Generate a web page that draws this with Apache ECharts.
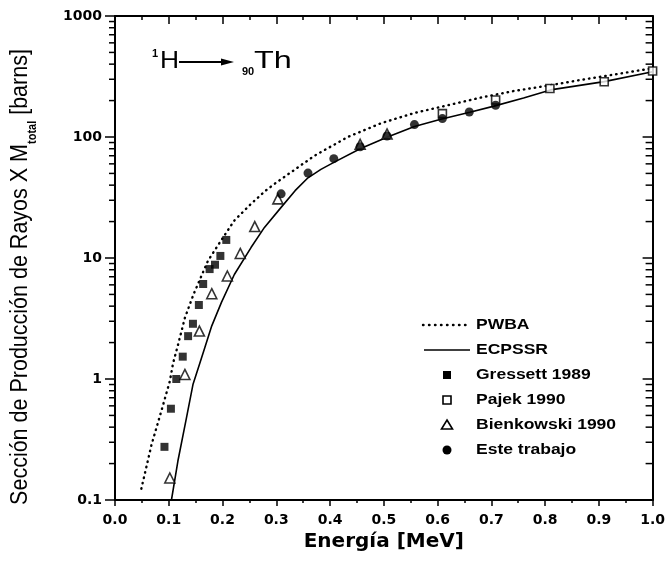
<!DOCTYPE html>
<html><head><meta charset="utf-8">
<script src="https://cdn.jsdelivr.net/npm/echarts@6/dist/echarts.min.js"></script>
<style>html,body{margin:0;padding:0;background:#fff}#c{width:668px;height:565px}</style>
</head><body><div id="c"></div>
<script>
// ---- data ----
const xTickLabels = ['0.0','0.1','0.2','0.3','0.4','0.5','0.6','0.7','0.8','0.9','1.0'];
const yTickLabels = ['0.1','1','10','100','1000'];

const pwbaE = [0.049,0.068,0.086,0.102,0.108,0.117,0.130,0.146,0.173,0.198,0.222,0.253,0.280,0.300,0.371,0.433,0.495,0.557,0.619,0.681,0.742,0.810,0.866,0.911,1.0];
const pwbaV = [0.124,0.287,0.54,0.96,1.35,1.9,3.2,5.0,9.5,14.1,20.4,28,36,42,70,100,130,158,183,212,240,268,296,319,370];

const ecpE = [0.105,0.117,0.133,0.145,0.157,0.167,0.180,0.198,0.222,0.253,0.278,0.309,0.335,0.359,0.383,0.408,0.456,0.507,0.557,0.606,0.660,0.705,0.760,0.810,0.910,1.0];
const ecpV = [0.1,0.21,0.48,0.9,1.32,1.81,2.75,4.3,7.3,12.2,17.9,26.2,36,46,54,62,80,100,122,140,160,180,210,245,287,346];

const gresE = [0.092,0.104,0.114,0.126,0.136,0.145,0.156,0.164,0.176,0.186,0.196,0.207];
const gresV = [0.275,0.568,1.0,1.53,2.26,2.86,4.09,6.1,8.1,8.8,10.4,14.1];

const pajE = [0.609,0.708,0.809,0.910,1.0];
const pajV = [156,202,252,286,351];

const bienE = [0.102,0.130,0.157,0.180,0.209,0.233,0.260,0.303,0.456,0.506];
const bienV = [0.152,1.09,2.49,5.07,7.1,10.9,18.2,30.8,87,106];

const esteE = [0.309,0.359,0.407,0.456,0.506,0.557,0.609,0.659,0.708];
const esteV = [33.9,50.3,66.2,83,102,126.7,142,161,183];

const legendNames = ['PWBA', 'ECPSSR', 'Gressett 1989', 'Pajek 1990', 'Bienkowski 1990', 'Este trabajo'];

// log minor tick positions (2..9 per decade)
const minorTicks = [];
[0.1,1,10,100].forEach(d => { for (let k = 2; k <= 9; k++) minorTicks.push(+(d*k).toPrecision(3)); });

const zip = (a, b) => a.map((v, i) => [v, b[i]]);
const FONT = '"Liberation Sans", Arial, sans-serif';
const WIDE = '"DejaVu Sans", sans-serif';

const chart = echarts.init(document.getElementById('c'), null, {renderer: 'canvas'});

// hand-built legend (icons drawn at fixed size like the reference)
const LX = 447, LY0 = 325, LDY = 25;
const legendGraphics = [];
legendNames.forEach((n, i) => {
  const y = LY0 + i * LDY;
  legendGraphics.push({type: 'text', x: 476, y: y, silent: true, scaleX: 1.25,
    style: {text: n, font: 'bold 14px ' + FONT, fill: '#000', align: 'left', verticalAlign: 'middle'}});
});
legendGraphics.push(
  {type: 'line', silent: true, shape: {x1: 423, y1: LY0, x2: 467, y2: LY0},
    style: {stroke: '#000', lineWidth: 2.4, lineDash: [0.5, 5.5], lineCap: 'round'}},
  {type: 'line', silent: true, shape: {x1: 424, y1: LY0 + LDY, x2: 470, y2: LY0 + LDY},
    style: {stroke: '#000', lineWidth: 1.6}},
  {type: 'rect', silent: true, shape: {x: LX - 4, y: LY0 + 2 * LDY - 4, width: 8, height: 8}, style: {fill: '#000'}},
  {type: 'rect', silent: true, shape: {x: LX - 4, y: LY0 + 3 * LDY - 4, width: 8, height: 8},
    style: {fill: '#fff', stroke: '#000', lineWidth: 1.6}},
  {type: 'polygon', silent: true, shape: {points: [[LX, LY0 + 4 * LDY - 5], [LX + 5.5, LY0 + 4 * LDY + 4], [LX - 5.5, LY0 + 4 * LDY + 4]]},
    style: {fill: '#fff', stroke: '#000', lineWidth: 1.6}},
  {type: 'circle', silent: true, shape: {cx: LX, cy: LY0 + 5 * LDY, r: 4.5}, style: {fill: '#000'}}
);

const option = {
  backgroundColor: '#fff',
  animation: false,
  grid: {left: 115, right: 15, top: 16, bottom: 65},
  xAxis: [{
    type: 'value', min: 0, max: 1, interval: 0.1, position: 'bottom',
    axisLine: {show: true, onZero: false, lineStyle: {color: '#000', width: 2}},
    axisTick: {show: true, inside: false, length: 6, lineStyle: {color: '#000', width: 1.5}},
    minorTick: {show: true, splitNumber: 2, length: 3, lineStyle: {color: '#000', width: 1.5}},
    splitLine: {show: false},
    axisLabel: {margin: 13, color: '#000', fontFamily: WIDE, fontWeight: 'bold', fontSize: 14,
      formatter: (v) => xTickLabels[Math.round(v * 10)]},
    name: 'Energía [MeV]', nameLocation: 'middle', nameGap: 30,
    nameTextStyle: {color: '#000', fontFamily: WIDE, fontWeight: 'bold', fontSize: 20}
  }, {
    type: 'value', min: 0, max: 1, interval: 0.1, position: 'top',
    axisLine: {show: true, onZero: false, lineStyle: {color: '#000', width: 2}},
    axisTick: {show: true, inside: true, length: 8, lineStyle: {color: '#000', width: 1.5}},
    minorTick: {show: true, splitNumber: 2, length: 4, lineStyle: {color: '#000', width: 1.5}},
    splitLine: {show: false},
    axisLabel: {show: false}
  }],
  yAxis: [{
    type: 'log', logBase: 10, min: 0.1, max: 1000, position: 'left',
    axisLine: {show: true, onZero: false, lineStyle: {color: '#000', width: 2}},
    axisTick: {show: true, inside: false, length: 10, lineStyle: {color: '#000', width: 1.5}},
    splitLine: {show: false},
    axisLabel: {margin: 13, color: '#000', fontFamily: WIDE, fontWeight: 'bold', fontSize: 14,
      formatter: (v) => yTickLabels[Math.round(Math.log10(v)) + 1]}
  }, {
    type: 'log', logBase: 10, min: 0.1, max: 1000, position: 'right',
    axisLine: {show: true, onZero: false, lineStyle: {color: '#000', width: 2}},
    axisTick: {show: true, inside: true, length: 10, lineStyle: {color: '#000', width: 1.5}},
    splitLine: {show: false},
    axisLabel: {show: false}
  }],
  graphic: [
    {type: 'text', x: 20, y: 277, rotation: Math.PI / 2, scaleY: 1.1, silent: true,
      style: {text: 'Sección de Producción de Rayos X M{sub|total} [barns]',
        font: '21.5px ' + FONT, fill: '#000', align: 'center', verticalAlign: 'middle', lineHeight: 34,
        rich: {sub: {fontSize: 11, fontWeight: 'bold', fontFamily: FONT, verticalAlign: 'bottom', lineHeight: 11, fill: '#000'}}}},
    {type: 'text', x: 155, y: 54, silent: true,
      style: {text: '1', font: 'bold 11px ' + FONT, fill: '#000', align: 'center', verticalAlign: 'middle'}},
    {type: 'text', x: 160, y: 61, scaleX: 1.1, silent: true,
      style: {text: 'H', font: '24px ' + FONT, fill: '#000', align: 'left', verticalAlign: 'middle'}},
    {type: 'line', silent: true, shape: {x1: 179, y1: 62, x2: 224, y2: 62}, style: {stroke: '#000', lineWidth: 2}},
    {type: 'polygon', silent: true, shape: {points: [[221, 58.5], [234, 62], [221, 65.5]]}, style: {fill: '#000'}},
    {type: 'text', x: 248, y: 72, silent: true,
      style: {text: '90', font: 'bold 11px ' + FONT, fill: '#000', align: 'center', verticalAlign: 'middle'}},
    {type: 'text', x: 254, y: 61, scaleX: 1.35, silent: true,
      style: {text: 'Th', font: '24px ' + FONT, fill: '#000', align: 'left', verticalAlign: 'middle'}}
  ].concat(legendGraphics),
  series: [
    {
      name: 'minor', type: 'custom', silent: true, clip: false, z: 1,
      data: minorTicks.map(v => [0, v]),
      renderItem: (params, api) => {
        const v = api.value(1);
        const pl = api.coord([0, v]);
        const pr = api.coord([1, v]);
        return {type: 'group', children: [
          {type: 'line', shape: {x1: pl[0] - 6, y1: pl[1], x2: pl[0], y2: pl[1]}, style: {stroke: '#000', lineWidth: 1.5}},
          {type: 'line', shape: {x1: pr[0] - 7, y1: pr[1], x2: pr[0], y2: pr[1]}, style: {stroke: '#000', lineWidth: 1.5}}
        ]};
      }
    },
    {
      name: 'PWBA', type: 'line', data: zip(pwbaE, pwbaV), symbol: 'none', smooth: false, z: 2,
      lineStyle: {color: '#000', width: 2.4, type: [0.5, 5], cap: 'round'}
    },
    {
      name: 'ECPSSR', type: 'line', data: zip(ecpE, ecpV), symbol: 'none', smooth: false, z: 2,
      lineStyle: {color: '#000', width: 1.6, type: 'solid'}
    },
    {
      name: 'Pajek 1990', type: 'scatter', data: zip(pajE, pajV), symbol: 'rect', symbolSize: 8, z: 3,
      itemStyle: {color: '#fff', borderColor: '#000', borderWidth: 1.6}
    },
    {
      name: 'Bienkowski 1990', type: 'scatter', data: zip(bienE, bienV), symbol: 'triangle', symbolSize: 10, z: 4,
      itemStyle: {color: '#fff', borderColor: '#000', borderWidth: 1.6}
    },
    {
      name: 'Gressett 1989', type: 'scatter', data: zip(gresE, gresV), symbol: 'rect', symbolSize: 8, z: 5,
      itemStyle: {color: '#000'}
    },
    {
      name: 'Este trabajo', type: 'scatter', data: zip(esteE, esteV), symbol: 'circle', symbolSize: 9, z: 6,
      itemStyle: {color: '#000'}
    }
  ]
};
chart.setOption(option);
</script>
</body></html>
